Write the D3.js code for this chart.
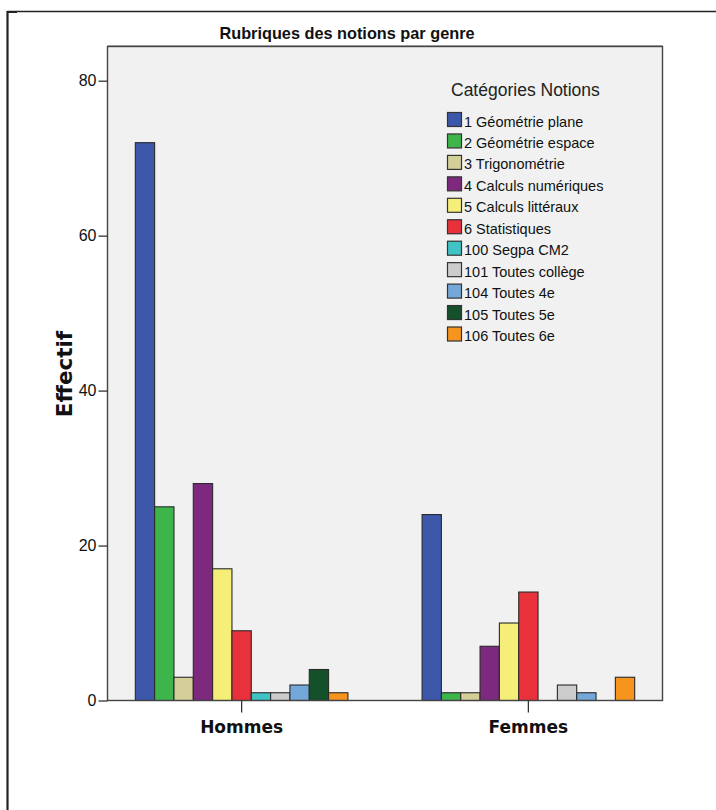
<!DOCTYPE html>
<html><head><meta charset="utf-8">
<script src="https://cdn.jsdelivr.net/npm/d3@7"></script>
<style>body{margin:0;background:#fff;} svg{display:block;}</style>
</head><body>
<script>
const genres = ["Hommes", "Femmes"];
const categories = ["1 Géométrie plane","2 Géométrie espace","3 Trigonométrie","4 Calculs numériques","5 Calculs littéraux","6 Statistiques","100 Segpa CM2","101 Toutes collège","104 Toutes 4e","105 Toutes 5e","106 Toutes 6e"];
const hommes = [72, 25, 3, 28, 17, 9, 1, 1, 2, 4, 1];
const femmes = [24, 1, 1, 7, 10, 14, 0, 2, 1, 0, 3];
const colors = ["#3d57aa","#3db54b","#d4cf98","#7d297e","#f5ef7a","#e9313b","#3fc3c5","#cccccc","#74a8d8","#14502a","#f6941e"];
const yTicks = [0, 20, 40, 60, 80];
const title = "Rubriques des notions par genre";
const yTitle = "Effectif";
const legendTitle = "Catégories Notions";

const W = 716, H = 810;
const svg = d3.select("body").append("svg").attr("width", W).attr("height", H);

// outer frame
svg.append("line").attr("x1",7).attr("x2",716).attr("y1",11.5).attr("y2",11.5).attr("stroke","#222").attr("stroke-width",1.3);
svg.append("line").attr("x1",7.5).attr("x2",7.5).attr("y1",11).attr("y2",810).attr("stroke","#222").attr("stroke-width",2.2);
svg.append("line").attr("x1",7).attr("x2",17).attr("y1",12).attr("y2",12).attr("stroke","#222").attr("stroke-width",2);

const P = {l:107.5, t:46.5, r:662.5, b:700.5};
const x0 = d3.scaleBand().domain(genres).range([P.l, P.r]).paddingInner(0.2586).paddingOuter(0.097);
const x1 = d3.scaleBand().domain(categories).range([0, x0.bandwidth()]);
const y = d3.scaleLinear().domain([0, 80]).range([P.b, 80.7]);

svg.append("rect").attr("x",P.l).attr("y",P.t).attr("width",P.r-P.l).attr("height",P.b-P.t).attr("fill","#f0f1f0");

const data = genres.map((g,i)=>({g, vals: (i===0?hommes:femmes)}));
const grp = svg.selectAll("g.grp").data(data).join("g").attr("transform", d=>`translate(${x0(d.g)},0)`);
grp.selectAll("rect").data(d=>d.vals.map((v,j)=>({v, c:categories[j], col:colors[j]})).filter(d=>d.v>0))
  .join("rect")
  .attr("x", d=>x1(d.c)).attr("width", x1.bandwidth())
  .attr("y", d=>y(d.v)).attr("height", d=>y(0)-y(d.v))
  .attr("fill", d=>d.col).attr("stroke","#2a2a2a").attr("stroke-width",1.1);

// frame
svg.append("rect").attr("x",P.l).attr("y",P.t).attr("width",P.r-P.l).attr("height",P.b-P.t)
  .attr("fill","none").attr("stroke","#444").attr("stroke-width",1.4);
svg.append("line").attr("x1",P.l).attr("x2",P.r).attr("y1",P.t-1).attr("y2",P.t-1).attr("stroke","#999").attr("stroke-width",1);

// y axis
const yAxis = svg.append("g").attr("transform",`translate(${P.l},0)`)
  .call(d3.axisLeft(y).tickValues(yTicks).tickSize(9).tickPadding(2).tickFormat(d3.format("d")));
yAxis.select(".domain").remove();
yAxis.selectAll(".tick line").attr("stroke","#333").attr("stroke-width",1.3);
yAxis.selectAll(".tick text").attr("font-family","'Liberation Sans Narrow','Arial Narrow','Liberation Sans',sans-serif").attr("font-size",16).attr("fill","#111");

// x axis
const xAxis = svg.append("g").attr("transform",`translate(0,${P.b})`)
  .call(d3.axisBottom(x0).tickSize(12).tickPadding(8));
xAxis.select(".domain").remove();
xAxis.selectAll(".tick line").attr("stroke","#333").attr("stroke-width",1.3);
xAxis.selectAll(".tick text").attr("font-family","'DejaVu Sans',sans-serif").attr("font-weight","bold").attr("font-size",17).attr("fill","#111");

// titles
svg.append("text").attr("x",347).attr("y",39).attr("text-anchor","middle")
  .attr("font-family","'Liberation Sans Narrow','Arial Narrow','Liberation Sans',sans-serif").attr("font-weight","bold").attr("font-size",16.3).attr("fill","#111").text(title);
svg.append("text").attr("transform","translate(72,374) rotate(-90)").attr("text-anchor","middle")
  .attr("font-family","'DejaVu Sans',sans-serif").attr("font-weight","bold").attr("font-size",21.5).attr("fill","#111").text(yTitle);

// legend
svg.append("text").attr("x",451).attr("y",96).attr("font-family","'Liberation Sans',Arial,sans-serif").attr("font-size",17.5).attr("fill","#222").text(legendTitle);
const lg = svg.selectAll("g.lg").data(categories).join("g").attr("transform",(d,i)=>`translate(447,${112 + i*21.45})`);
lg.append("rect").attr("x",0.5).attr("y",0.5).attr("width",14).attr("height",14).attr("fill",(d,i)=>colors[i]).attr("stroke","#333").attr("stroke-width",1.2);
lg.append("text").attr("x",17).attr("y",14.5).attr("font-family","'Liberation Sans',Arial,sans-serif").attr("font-size",14.5).attr("fill","#111").text(d=>d);
</script>
</body></html>
